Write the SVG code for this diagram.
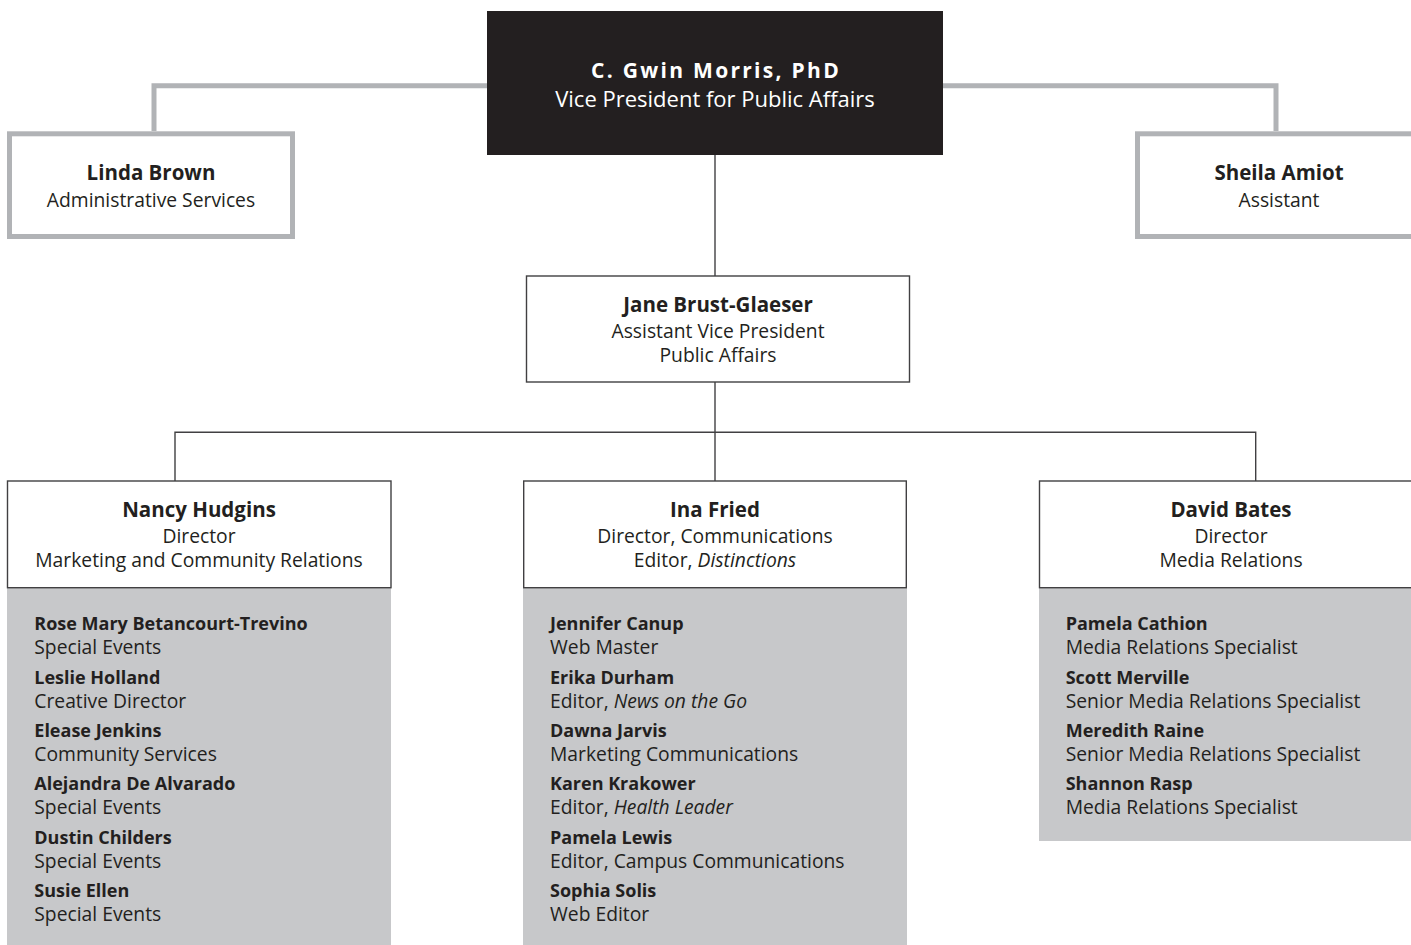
<svg xmlns="http://www.w3.org/2000/svg" width="1411" height="945" viewBox="0 0 1411 945">
<style>
text{font-family:"Open Sans","Noto Sans","DejaVu Sans",sans-serif;font-size:19.3px;fill:#231f20}
.c{text-anchor:middle}
.b{font-weight:bold;font-size:18px}
.h{font-weight:bold;font-size:20.5px}
.i{font-style:italic}
.w{fill:#ffffff}
.vn{font-weight:bold;font-size:21px;letter-spacing:2.3px}
.vt{font-size:22px}
.thick{fill:none;stroke:#b1b3b6;stroke-width:5}
.thin{fill:none;stroke:#414042;stroke-width:1.4}
.box{fill:#ffffff;stroke:#414042;stroke-width:1.4}
.gbox{fill:#ffffff;stroke:#b1b3b6;stroke-width:5}
.panel{fill:#c7c8ca}
</style>
<rect width="1411" height="945" fill="#ffffff"/>
<g id="connectors">
<polyline class="thick" points="154,131 154,85.8 487,85.8"/>
<polyline class="thick" points="943,85.8 1276,85.8 1276,131"/>
<line class="thin" x1="715" y1="155" x2="715" y2="276"/>
<line class="thin" x1="715" y1="382" x2="715" y2="481"/>
<polyline class="thin" points="175,481 175,432.3 1255.7,432.3 1255.7,481"/>
</g>
<g id="vp">
<rect x="487" y="11" width="456" height="144" fill="#231f20"/>
<text class="c vn w" x="716" y="78">C. Gwin Morris, PhD</text>
<text class="c vt w" x="715" y="107">Vice President for Public Affairs</text>
</g>
<g id="linda">
<rect class="gbox" x="9.5" y="133.8" width="283" height="102.7"/>
<text class="c h" x="151" y="180">Linda Brown</text>
<text class="c" x="151" y="207">Administrative Services</text>
</g>
<g id="sheila">
<rect class="gbox" x="1137.5" y="133.8" width="300" height="102.7"/>
<text class="c h" x="1279" y="180">Sheila Amiot</text>
<text class="c" x="1279" y="207">Assistant</text>
</g>
<g id="jane">
<rect class="box" x="526.5" y="276" width="383" height="106"/>
<text class="c h" x="718" y="311.7">Jane Brust-Glaeser</text>
<text class="c" x="718" y="338.3">Assistant Vice President</text>
<text class="c" x="718" y="362.3">Public Affairs</text>
</g>
<g id="nancy">
<rect class="panel" x="7" y="588" width="384" height="357"/>
<rect class="box" x="7.5" y="481" width="383.5" height="106.7"/>
<text class="c h" x="199" y="516.7">Nancy Hudgins</text>
<text class="c" x="199" y="543">Director</text>
<text class="c" x="199" y="567">Marketing and Community Relations</text>
<text class="b" x="34.3" y="630">Rose Mary Betancourt-Trevino</text>
<text x="34.3" y="654">Special Events</text>
<text class="b" x="34.3" y="684">Leslie Holland</text>
<text x="34.3" y="708">Creative Director</text>
<text class="b" x="34.3" y="737">Elease Jenkins</text>
<text x="34.3" y="761">Community Services</text>
<text class="b" x="34.3" y="790">Alejandra De Alvarado</text>
<text x="34.3" y="814">Special Events</text>
<text class="b" x="34.3" y="844">Dustin Childers</text>
<text x="34.3" y="868">Special Events</text>
<text class="b" x="34.3" y="897">Susie Ellen</text>
<text x="34.3" y="921">Special Events</text>
</g>
<g id="ina">
<rect class="panel" x="523" y="588" width="384" height="357"/>
<rect class="box" x="523.7" y="481" width="382.6" height="106.7"/>
<text class="c h" x="715" y="516.7">Ina Fried</text>
<text class="c" x="715" y="543">Director, Communications</text>
<text class="c" x="715" y="567">Editor, <tspan class="i">Distinctions</tspan></text>
<text class="b" x="550" y="630">Jennifer Canup</text>
<text x="550" y="654">Web Master</text>
<text class="b" x="550" y="684">Erika Durham</text>
<text x="550" y="708">Editor, <tspan class="i">News on the Go</tspan></text>
<text class="b" x="550" y="737">Dawna Jarvis</text>
<text x="550" y="761">Marketing Communications</text>
<text class="b" x="550" y="790">Karen Krakower</text>
<text x="550" y="814">Editor, <tspan class="i">Health Leader</tspan></text>
<text class="b" x="550" y="844">Pamela Lewis</text>
<text x="550" y="868">Editor, Campus Communications</text>
<text class="b" x="550" y="897">Sophia Solis</text>
<text x="550" y="921">Web Editor</text>
</g>
<g id="david">
<rect class="panel" x="1039" y="588" width="380" height="253"/>
<rect class="box" x="1039.5" y="481" width="400" height="106.7"/>
<text class="c h" x="1231" y="516.7">David Bates</text>
<text class="c" x="1231" y="543">Director</text>
<text class="c" x="1231" y="567">Media Relations</text>
<text class="b" x="1065.7" y="630">Pamela Cathion</text>
<text x="1065.7" y="654">Media Relations Specialist</text>
<text class="b" x="1065.7" y="684">Scott Merville</text>
<text x="1065.7" y="708">Senior Media Relations Specialist</text>
<text class="b" x="1065.7" y="737">Meredith Raine</text>
<text x="1065.7" y="761">Senior Media Relations Specialist</text>
<text class="b" x="1065.7" y="790">Shannon Rasp</text>
<text x="1065.7" y="814">Media Relations Specialist</text>
</g>
</svg>
